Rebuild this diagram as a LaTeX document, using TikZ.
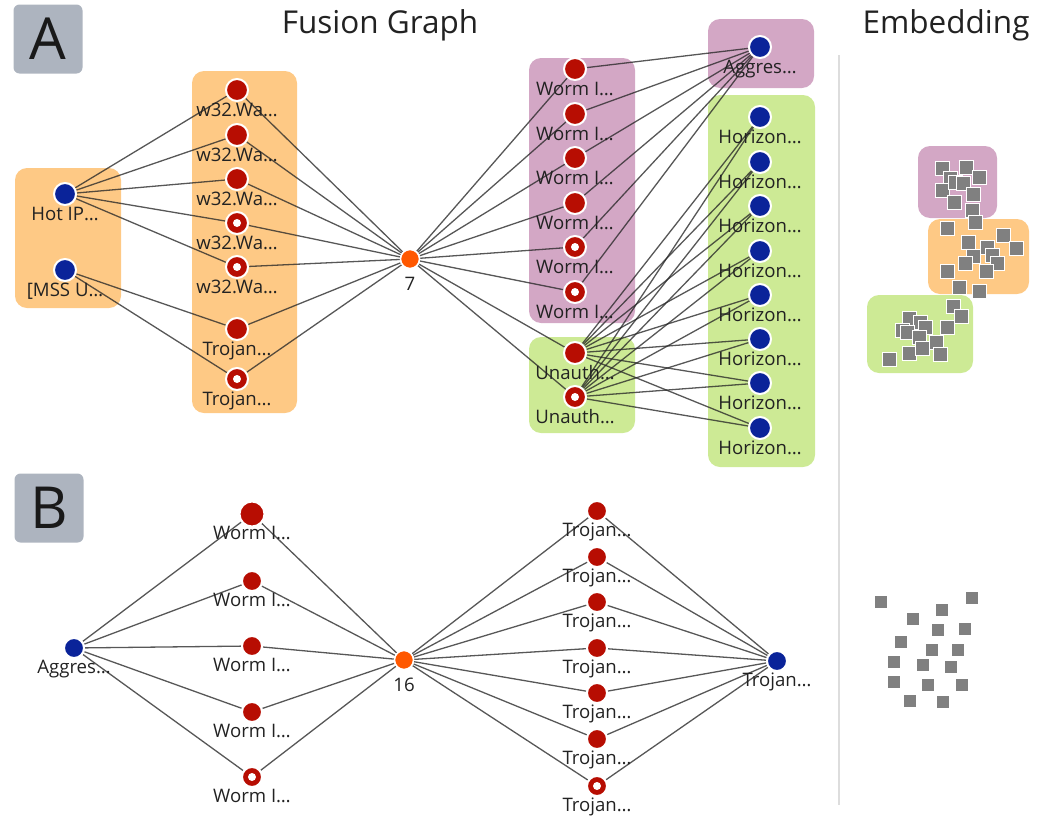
\documentclass[tikz,border=0pt]{standalone}
\usepackage{fontspec}
\setmainfont{Open Sans}
\pgfdeclarelayer{bg}
\pgfdeclarelayer{edges}
\pgfsetlayers{bg,edges,main}
\definecolor{cRed}{RGB}{183,13,2}
\definecolor{cBlue}{RGB}{10,35,153}
\definecolor{cHub}{RGB}{255,88,0}
\definecolor{cOrange}{RGB}{254,201,133}
\definecolor{cPink}{RGB}{211,167,197}
\definecolor{cGreen}{RGB}{205,234,149}
\definecolor{cTag}{RGB}{173,180,191}
\definecolor{cSq}{RGB}{128,128,128}
\definecolor{cEdge}{RGB}{40,40,40}
\definecolor{cText}{RGB}{34,34,34}
\definecolor{cDiv}{RGB}{221,221,221}
\begin{document}
\begin{tikzpicture}[x=1pt, y=-1pt,
    vtx/.style={circle, draw=white, line width=2pt, inner sep=0pt, minimum size=22pt},
    rednode/.style={vtx, fill=cRed},
    ringnode/.style={vtx, fill=cRed, path picture={\fill[white] (path picture bounding box.center) circle (4pt);}},
    bluenode/.style={vtx, fill=cBlue},
    hubnode/.style={vtx, fill=cHub, line width=1.5pt, minimum size=19pt},
    lbl/.style={font=\fontsize{18.6}{20}\selectfont, text=cText, anchor=base, inner sep=0pt, label distance=14pt},
    hublbl/.style={lbl, label distance=21pt},
    link/.style={draw=cEdge, draw opacity=0.78, line width=1.3pt},
    grp/.style={rounded corners=12pt},
    tag/.style={fill=cTag, rounded corners=6pt, minimum width=69pt, minimum height=69pt, inner sep=0pt, font=\fontsize{58}{58}\selectfont, text=black!90},
    headline/.style={font=\fontsize{31.5}{33}\selectfont, text=cText, anchor=base},
    sq/.style={fill=cSq, draw=white, line width=0.8pt}]
    \useasboundingbox (0,0) rectangle (1038,822);

    \node[tag] (tagA) at (48,39) {A};
    \node[tag] (tagB) at (49,508) {B};
    \node[headline] (ttlFusion) at (380,33) {Fusion Graph};
    \node[headline] (ttlEmbed) at (946,33) {Embedding};
    \draw[cDiv, line width=2pt] (839,55) -- (839,805);

    \begin{pgfonlayer}{bg}
        \fill[grp, cOrange] (15,168) rectangle (121,308);
        \fill[grp, cOrange] (192,71) rectangle (297,413);
        \fill[grp, cPink] (529,58) rectangle (635,323);
        \fill[grp, cGreen] (529,337) rectangle (635,433);
        \fill[grp, cPink] (708,19) rectangle (814,88);
        \fill[grp, cGreen] (708,95) rectangle (815,467);
    \end{pgfonlayer}

    \node[bluenode, label={[lbl]below:Hot IP…}] (hot) at (65,194) {};
    \node[bluenode, label={[lbl]below:{[}MSS U…}] (mss) at (65,270) {};
    \foreach \i/\y in {1/90,2/135,3/179}
        \node[rednode, label={[lbl]below:w32.Wa…}] (w\i) at (237,\y) {};
    \foreach \i/\y in {4/223,5/267}
        \node[ringnode, label={[lbl]below:w32.Wa…}] (w\i) at (237,\y) {};
    \node[rednode, label={[lbl]below:Trojan…}] (tr1) at (237,329) {};
    \node[ringnode, label={[lbl]below:Trojan…}] (tr2) at (237,379) {};
    \node[hubnode, label={[hublbl]below:7}] (hubA) at (410,259) {};
    \foreach \i/\y in {1/69,2/114,3/158,4/203}
        \node[rednode, label={[lbl]below:Worm I…}] (wm\i) at (575,\y) {};
    \foreach \i/\y in {5/247,6/292}
        \node[ringnode, label={[lbl]below:Worm I…}] (wm\i) at (575,\y) {};
    \node[rednode, label={[lbl]below:Unauth…}] (un1) at (575,353) {};
    \node[ringnode, label={[lbl]below:Unauth…}] (un2) at (575,397) {};
    \node[bluenode, label={[lbl]below:Aggres…}] (agA) at (760,47) {};
    \foreach \i/\y in {1/117,2/162,3/206,4/251,5/295,6/339,7/383,8/428}
        \node[bluenode, label={[lbl]below:Horizon…}] (hz\i) at (760,\y) {};

    \node[bluenode, minimum size=20pt, label={[lbl]below:Aggres…}] (agB) at (74,648) {};
    \node[rednode, minimum size=25pt, label={[lbl, label distance=12pt]below:Worm I…}] (bw1) at (252,514) {};
    \foreach \i/\y in {2/581,3/646,4/712}
        \node[rednode, minimum size=20pt, label={[lbl]below:Worm I…}] (bw\i) at (252,\y) {};
    \node[ringnode, minimum size=20pt, label={[lbl]below:Worm I…}] (bw5) at (252,777) {};
    \node[hubnode, label={[hublbl]below:16}] (hubB) at (404,660) {};
    \foreach \i/\y in {1/511,2/557,3/602,4/648,5/693,6/739}
        \node[rednode, minimum size=20pt, label={[lbl]below:Trojan…}] (bt\i) at (597,\y) {};
    \node[ringnode, minimum size=20pt, label={[lbl]below:Trojan…}] (bt7) at (597,786) {};
    \node[bluenode, minimum size=20pt, label={[lbl]below:Trojan…}] (trB) at (777,661) {};

    \begin{pgfonlayer}{edges}
        \foreach \n in {w1,w2,w3,w4,w5}
            \draw[link] (hot) -- (\n);
        \draw[link] (mss) -- (tr1) (mss) -- (tr2);
        \foreach \n in {w1,w2,w3,w4,w5,tr1,tr2}
            \draw[link] (\n) -- (hubA);
        \foreach \n in {wm1,wm2,wm3,wm4,wm5,wm6,un1,un2}
            \draw[link] (hubA) -- (\n);
        \foreach \n in {wm1,wm2,wm3,wm4,wm5,wm6}
            \draw[link] (\n) -- (agA);
        \foreach \i in {1,...,8}
            \draw[link] (un1) -- (hz\i) (un2) -- (hz\i);
        \foreach \i in {1,...,5}
            \draw[link] (agB) -- (bw\i) (bw\i) -- (hubB);
        \foreach \i in {1,...,7}
            \draw[link] (hubB) -- (bt\i) (bt\i) -- (trB);
    \end{pgfonlayer}

    \fill[grp, cPink] (918,146) rectangle (997,218);
    \fill[grp, cOrange] (928,219) rectangle (1029,294);
    \fill[grp, cGreen] (867,295) rectangle (973,373);
    \foreach \x/\y in {942/168,966/167,979/177,950/178,942/190,955/182,963/183,973/194,954/202,972/210,975/222,
        947/228,968/242,987/247,1003/235,1016/248,973/256,992/255,997/263,965/263,947/271,986/271,959/287,979/291,
        953/306,961/316,909/318,920/322,925/327,902/330,907/332,919/337,947/327,936/342,909/353,922/348,940/354,889/359}
        \filldraw[sq] (\x-7,\y-7) rectangle ++(14,14);
    \foreach \x/\y in {881/602,972/598,942/610,913/619,938/630,965/629,901/642,932/650,958/650,
        894/662,923/665,951/667,894/682,928/685,962/685,910/701,943/702}
        \filldraw[sq] (\x-6.5,\y-6.5) rectangle ++(13,13);
\end{tikzpicture}
\end{document}
